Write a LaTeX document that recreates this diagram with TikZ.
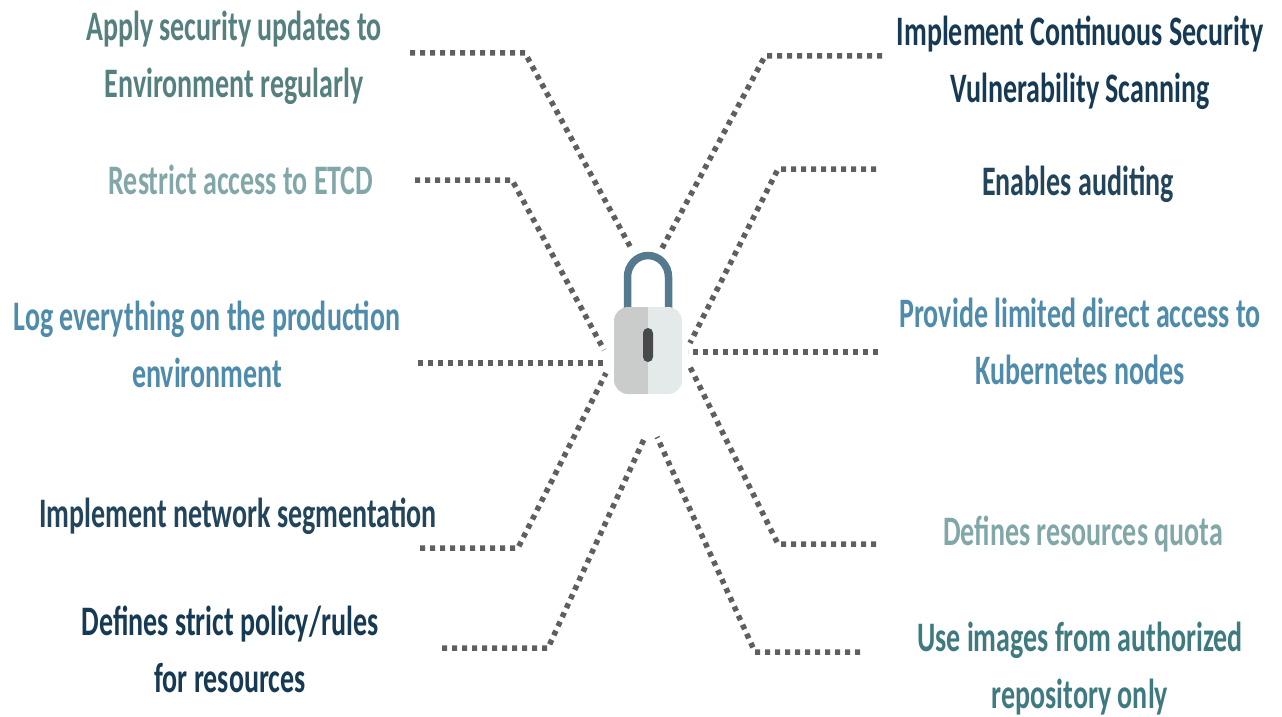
\documentclass[tikz,border=0pt]{standalone}
\usepackage{fontspec}
\setmainfont{Carlito}
\definecolor{tealdark}{HTML}{55807F}
\definecolor{teallight}{HTML}{82A7A8}
\definecolor{tealmid}{HTML}{3F7A80}
\definecolor{bluemid}{HTML}{4F8BAB}
\definecolor{navy}{HTML}{173A54}
\definecolor{navysoft}{HTML}{23455C}
\definecolor{dotgray}{HTML}{5F5F5F}
\definecolor{shackle}{HTML}{557A90}
\definecolor{bodyleft}{HTML}{C9CCCA}
\definecolor{bodyright}{HTML}{E4E9E9}
\definecolor{keyhole}{HTML}{48494B}
\tikzset{
    lbl/.style={font=\fontsize{28}{38}\selectfont\bfseries, align=center, inner sep=0pt, yscale=1.5, transform shape},
    dotline/.style={draw=dotgray, line width=5.5pt, dash pattern=on 5pt off 5pt}
}
\begin{document}
\begin{tikzpicture}[x=1pt,y=-1pt]
    \useasboundingbox (0,0) rectangle (1282,717);
    \node[lbl, text=tealdark]  (apply)    at (234,58)   {Apply security updates to\\Environment regularly};
    \node[lbl, text=teallight] (etcd)     at (241,180)  {Restrict access to ETCD};
    \node[lbl, text=bluemid]   (logs)     at (207,344)  {Log everything on the production\\environment};
    \node[lbl, text=navysoft]  (segment)  at (238,516)  {Implement network segmentation};
    \node[lbl, text=navy]      (policy)   at (230,649)  {Defines strict policy/rules\\for resources};
    \node[lbl, text=navy]      (scanning) at (1080,63)  {Implement Continuous Security\\Vulnerability Scanning};
    \node[lbl, text=navysoft]  (auditing) at (1078,184) {Enables auditing};
    \node[lbl, text=bluemid]   (nodes)    at (1080,341) {Provide limited direct access to\\Kubernetes nodes};
    \node[lbl, text=teallight] (quota)    at (1083,534) {Defines resources quota};
    \node[lbl, text=tealmid]   (images)   at (1080,669) {Use images from authorized\\repository only};

    \coordinate (applyA)    at (410,53);
    \coordinate (applyB)    at (525,53);
    \coordinate (applyC)    at (632,250);
    \coordinate (etcdA)     at (415,180);
    \coordinate (etcdB)     at (512,180);
    \coordinate (etcdC)     at (604,350);
    \coordinate (logsA)     at (418,363);
    \coordinate (logsC)     at (606,363);
    \coordinate (segmentA)  at (420,548);
    \coordinate (segmentB)  at (518,548);
    \coordinate (segmentC)  at (606,373);
    \coordinate (policyA)   at (442,648);
    \coordinate (policyB)   at (548,648);
    \coordinate (policyC)   at (645,437);
    \coordinate (scanningA) at (882,56);
    \coordinate (scanningB) at (765,56);
    \coordinate (scanningC) at (660,252);
    \coordinate (auditingA) at (876,169);
    \coordinate (auditingB) at (778,169);
    \coordinate (auditingC) at (690,343);
    \coordinate (nodesA)    at (878,352);
    \coordinate (nodesC)    at (688,352);
    \coordinate (quotaA)    at (876,544);
    \coordinate (quotaB)    at (778,544);
    \coordinate (quotaC)    at (690,367);
    \coordinate (imagesA)   at (860,652);
    \coordinate (imagesB)   at (755,652);
    \coordinate (imagesC)   at (657,437);

    \draw[dotline] (applyA) -- (applyB) -- (applyC);
    \draw[dotline] (etcdA) -- (etcdB) -- (etcdC);
    \draw[dotline] (logsA) -- (logsC);
    \draw[dotline] (segmentA) -- (segmentB) -- (segmentC);
    \draw[dotline] (policyA) -- (policyB) -- (policyC);
    \draw[dotline] (scanningA) -- (scanningB) -- (scanningC);
    \draw[dotline] (auditingA) -- (auditingB) -- (auditingC);
    \draw[dotline] (nodesA) -- (nodesC);
    \draw[dotline] (quotaA) -- (quotaB) -- (quotaC);
    \draw[dotline] (imagesA) -- (imagesB) -- (imagesC);

    \draw[line width=7.5pt, draw=shackle] (627.5,308) -- (627.5,277) arc[start angle=180, end angle=0, x radius=20.5, y radius=-21.5] -- (668.5,308);
    \fill[rounded corners=14pt, fill=bodyleft] (648,307) -- (614,307) -- (614,394) -- (648,394) -- cycle;
    \fill[rounded corners=14pt, fill=bodyright] (648,307) -- (682,307) -- (682,394) -- (648,394) -- cycle;
    \fill[fill=bodyleft] (636,307) rectangle (648,394);
    \fill[fill=bodyright] (648,307) rectangle (660,394);
    \fill[rounded corners=5pt, fill=keyhole] (643,328) rectangle (653,362);
\end{tikzpicture}
\end{document}
